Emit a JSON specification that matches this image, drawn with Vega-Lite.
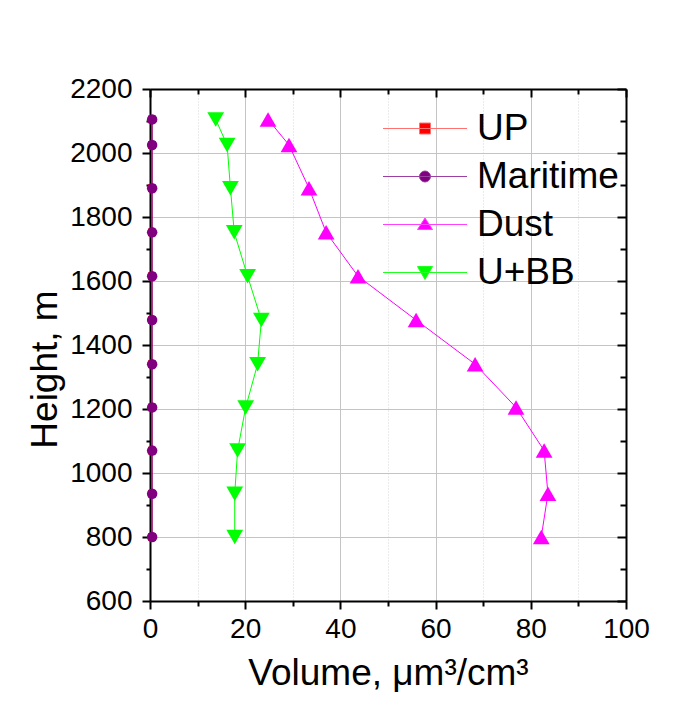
{
  "$schema": "https://vega.github.io/schema/vega-lite/v6.json",
  "width": 476,
  "height": 512,
  "autosize": {"type": "none"},
  "padding": {"left": 150, "top": 89, "right": 66, "bottom": 113},
  "background": "white",
  "config": {"view": {"stroke": null}, "font": "Liberation Sans"},
  "data": {
    "values": [
      {"series": "UP", "h": 800, "v": 0.4},
      {"series": "UP", "h": 935, "v": 0.4},
      {"series": "UP", "h": 1070, "v": 0.4},
      {"series": "UP", "h": 1205, "v": 0.4},
      {"series": "UP", "h": 1340, "v": 0.4},
      {"series": "UP", "h": 1478, "v": 0.4},
      {"series": "UP", "h": 1615, "v": 0.4},
      {"series": "UP", "h": 1752, "v": 0.4},
      {"series": "UP", "h": 1890, "v": 0.4},
      {"series": "UP", "h": 2025, "v": 0.4},
      {"series": "UP", "h": 2105, "v": 0.4},
      {"series": "Maritime", "h": 800, "v": 0.45},
      {"series": "Maritime", "h": 935, "v": 0.45},
      {"series": "Maritime", "h": 1070, "v": 0.45},
      {"series": "Maritime", "h": 1205, "v": 0.45},
      {"series": "Maritime", "h": 1340, "v": 0.45},
      {"series": "Maritime", "h": 1478, "v": 0.45},
      {"series": "Maritime", "h": 1615, "v": 0.45},
      {"series": "Maritime", "h": 1752, "v": 0.45},
      {"series": "Maritime", "h": 1890, "v": 0.45},
      {"series": "Maritime", "h": 2025, "v": 0.45},
      {"series": "Maritime", "h": 2105, "v": 0.45},
      {"series": "Dust", "h": 800, "v": 82.2},
      {"series": "Dust", "h": 935, "v": 83.6},
      {"series": "Dust", "h": 1070, "v": 82.8},
      {"series": "Dust", "h": 1205, "v": 76.9},
      {"series": "Dust", "h": 1340, "v": 68.3},
      {"series": "Dust", "h": 1478, "v": 55.9},
      {"series": "Dust", "h": 1615, "v": 43.7},
      {"series": "Dust", "h": 1752, "v": 37.0},
      {"series": "Dust", "h": 1890, "v": 33.4},
      {"series": "Dust", "h": 2025, "v": 29.2},
      {"series": "Dust", "h": 2105, "v": 24.8},
      {"series": "U+BB", "h": 800, "v": 17.8},
      {"series": "U+BB", "h": 935, "v": 17.8},
      {"series": "U+BB", "h": 1070, "v": 18.4},
      {"series": "U+BB", "h": 1205, "v": 20.1},
      {"series": "U+BB", "h": 1340, "v": 22.6},
      {"series": "U+BB", "h": 1478, "v": 23.4},
      {"series": "U+BB", "h": 1615, "v": 20.5},
      {"series": "U+BB", "h": 1752, "v": 17.7},
      {"series": "U+BB", "h": 1890, "v": 16.9},
      {"series": "U+BB", "h": 2025, "v": 16.2},
      {"series": "U+BB", "h": 2105, "v": 13.8}
    ]
  },
  "resolve": {"axis": {"x": "independent", "y": "independent"}},
  "layer": [
    {
      "transform": [{"filter": "datum.series === 'UP'"}],
      "mark": {"type": "line", "strokeWidth": 1, "color": "#ff0000"},
      "encoding": {
        "x": {
          "field": "v", "type": "quantitative",
          "scale": {"domain": [0, 100], "nice": false, "zero": false},
          "axis": {
            "orient": "bottom",
            "values": [0, 10, 20, 30, 40, 50, 60, 70, 80, 90, 100],
            "labelExpr": "datum.value % 20 === 0 ? datum.label : ''",
            "format": "d",
            "labelOverlap": false,
            "labelFlush": false,
            "labelFont": "Liberation Sans",
            "labelFontSize": 28,
            "labelColor": "black",
            "labelPadding": 6,
            "tickColor": "black",
            "tickWidth": 2,
            "tickSize": {"condition": {"test": "datum.value % 20 === 0", "value": 8}, "value": 5},
            "domainColor": "black",
            "domainWidth": 2,
            "grid": true,
            "gridColor": {"condition": {"test": "datum.value % 20 === 0", "value": "#c4c4c4"}, "value": "#d6d6d6"},
            "gridDash": {"condition": {"test": "datum.value % 20 === 0", "value": []}, "value": [1, 2]},
            "gridWidth": 1,
            "title": "Volume, μm³/cm³",
            "titleFont": "Liberation Sans",
            "titleFontSize": 37,
            "titleFontWeight": "normal",
            "titleColor": "black",
            "titlePadding": 12
          }
        },
        "y": {
          "field": "h", "type": "quantitative",
          "scale": {"domain": [600, 2200], "nice": false, "zero": false},
          "axis": {
            "orient": "left",
            "values": [600, 700, 800, 900, 1000, 1100, 1200, 1300, 1400, 1500, 1600, 1700, 1800, 1900, 2000, 2100, 2200],
            "labelExpr": "datum.value % 200 === 0 ? datum.label : ''",
            "format": "d",
            "labelOverlap": false,
            "labelFlush": false,
            "labelFont": "Liberation Sans",
            "labelFontSize": 28,
            "labelColor": "black",
            "labelPadding": 10,
            "tickColor": "black",
            "tickWidth": 2,
            "tickSize": {"condition": {"test": "datum.value % 200 === 0", "value": 8}, "value": 4},
            "domainColor": "black",
            "domainWidth": 2,
            "grid": true,
            "gridColor": "#c4c4c4",
            "gridOpacity": {"condition": {"test": "datum.value % 200 === 0", "value": 1}, "value": 0},
            "gridWidth": 1,
            "title": "Height, m",
            "titleFont": "Liberation Sans",
            "titleFontSize": 37,
            "titleFontWeight": "normal",
            "titleColor": "black",
            "titlePadding": 5,
            "titleY": 280
          }
        },
        "order": {"field": "h", "type": "quantitative"}
      }
    },
    {
      "transform": [{"filter": "datum.series === 'Maritime'"}],
      "mark": {"type": "line", "strokeWidth": 1, "color": "#800080"},
      "encoding": {
        "x": {"field": "v", "type": "quantitative", "axis": null},
        "y": {"field": "h", "type": "quantitative", "axis": null},
        "order": {"field": "h", "type": "quantitative"}
      }
    },
    {
      "transform": [{"filter": "datum.series === 'Dust'"}],
      "mark": {"type": "line", "strokeWidth": 1, "color": "#ff00ff"},
      "encoding": {
        "x": {"field": "v", "type": "quantitative", "axis": null},
        "y": {"field": "h", "type": "quantitative", "axis": null},
        "order": {"field": "h", "type": "quantitative"}
      }
    },
    {
      "transform": [{"filter": "datum.series === 'U+BB'"}],
      "mark": {"type": "line", "strokeWidth": 1, "color": "#00ff00"},
      "encoding": {
        "x": {"field": "v", "type": "quantitative", "axis": null},
        "y": {"field": "h", "type": "quantitative", "axis": null},
        "order": {"field": "h", "type": "quantitative"}
      }
    },
    {
      "transform": [{"filter": "datum.series === 'UP'"}],
      "mark": {"type": "point", "filled": true, "opacity": 1, "shape": "square", "size": 60},
      "encoding": {
        "x": {
          "field": "v", "type": "quantitative",
          "axis": {
            "orient": "top",
            "values": [0, 10, 20, 30, 40, 50, 60, 70, 80, 90, 100],
            "labels": false,
            "tickColor": "black",
            "tickWidth": 2,
            "tickSize": {"condition": {"test": "datum.value % 20 === 0", "value": -8}, "value": -5},
            "domainColor": "black",
            "domainWidth": 2,
            "grid": false,
            "title": null
          }
        },
        "y": {
          "field": "h", "type": "quantitative",
          "axis": {
            "orient": "right",
            "values": [600, 700, 800, 900, 1000, 1100, 1200, 1300, 1400, 1500, 1600, 1700, 1800, 1900, 2000, 2100, 2200],
            "labels": false,
            "tickColor": "black",
            "tickWidth": 2,
            "tickSize": {"condition": {"test": "datum.value % 200 === 0", "value": -9}, "value": -6},
            "domainColor": "black",
            "domainWidth": 2,
            "grid": false,
            "title": null
          }
        },
        "color": {
          "field": "series", "type": "nominal",
          "scale": {"domain": ["UP", "Maritime", "Dust", "U+BB"], "range": ["#ff0000", "#800080", "#ff00ff", "#00ff00"]},
          "legend": {
            "orient": "none",
            "legendX": 256.5,
            "legendY": 21,
            "title": null,
            "padding": 0,
            "labelFont": "Liberation Sans",
            "labelFontSize": 37,
            "labelColor": "black",
            "labelOffset": 33.5,
            "labelLimit": 0,
            "symbolSize": 400,
            "symbolStrokeWidth": 1,
            "symbolType": {"expr": "datum.value === 'UP' ? 'M-4.2,0H4.2M-0.55,-0.55H0.55V0.55H-0.55Z' : datum.value === 'Maritime' ? 'M-4.2,0H4.2M0.55,0A0.55,0.55 0 1,1 -0.55,0A0.55,0.55 0 1,1 0.55,0Z' : datum.value === 'Dust' ? 'M-4.2,0H4.2M0,-0.65L0.75,0.5L-0.75,0.5Z' : 'M-4.2,0H4.2M-0.75,-0.6L0.75,-0.6L0,0.7Z'"},
            "symbolStrokeColor": {"expr": "datum.value === 'UP' ? '#ff7070' : datum.value === 'Maritime' ? '#9a40a0' : datum.value === 'Dust' ? '#ff40ff' : '#20ff20'"},
            "rowPadding": 10,
            "encode": {
              "symbols": {
                "shape": {"value": {"expr": "datum.value === 'UP' ? 'M-4.2,0H4.2M-0.55,-0.55H0.55V0.55H-0.55Z' : datum.value === 'Maritime' ? 'M-4.2,0H4.2M0.55,0A0.55,0.55 0 1,1 -0.55,0A0.55,0.55 0 1,1 0.55,0Z' : datum.value === 'Dust' ? 'M-4.2,0H4.2M0,-0.65L0.75,0.5L-0.75,0.5Z' : 'M-4.2,0H4.2M-0.75,-0.6L0.75,-0.6L0,0.7Z'"}},
                "stroke": {"value": {"expr": "datum.value === 'UP' ? '#ff7070' : datum.value === 'Maritime' ? '#9a40a0' : datum.value === 'Dust' ? '#ff40ff' : '#20ff20'"}},
                "strokeWidth": {"value": 1}
              }
            }
          }
        }
      }
    },
    {
      "transform": [{"filter": "datum.series === 'Maritime'"}],
      "mark": {"type": "point", "filled": true, "opacity": 1, "shape": "circle", "size": 110, "color": "#800080"},
      "encoding": {
        "x": {"field": "v", "type": "quantitative", "axis": null},
        "y": {"field": "h", "type": "quantitative", "axis": null}
      }
    },
    {
      "transform": [{"filter": "datum.series === 'Dust'"}],
      "mark": {"type": "point", "filled": true, "opacity": 1, "shape": "triangle-up", "size": 280, "color": "#ff00ff"},
      "encoding": {
        "x": {"field": "v", "type": "quantitative", "axis": null},
        "y": {"field": "h", "type": "quantitative", "axis": null}
      }
    },
    {
      "transform": [{"filter": "datum.series === 'U+BB'"}],
      "mark": {"type": "point", "filled": true, "opacity": 1, "shape": "triangle-down", "size": 280, "color": "#00ff00"},
      "encoding": {
        "x": {"field": "v", "type": "quantitative", "axis": null},
        "y": {"field": "h", "type": "quantitative", "axis": null}
      }
    }
  ]
}
